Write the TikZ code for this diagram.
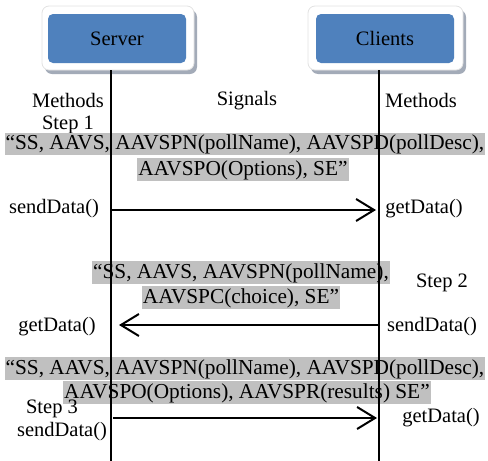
\documentclass[tikz,border=0pt]{standalone}
\usepackage{fontspec}
\setmainfont{Liberation Serif}
\newfontfamily\tnr{Liberation Serif}
\usetikzlibrary{arrows.meta,shadows}
\definecolor{boxblue}{HTML}{4F81BD}
\definecolor{hlgray}{HTML}{C0C0C0}
\definecolor{shadowc}{HTML}{A3ABB8}
\definecolor{frameedge}{HTML}{E2E2E2}
\newcommand{\dfont}{\tnr\fontsize{20.5}{24.5}\selectfont}
\newcommand{\sfontx}{\tnr\fontsize{21.3}{25}\selectfont}
\begin{document}
\begin{tikzpicture}[x=1pt,y=-1pt,
  frame/.style={draw=frameedge, line width=0.8pt, fill=white, rounded corners=7pt,
    minimum height=64pt, inner sep=0pt, drop shadow={shadow xshift=3pt, shadow yshift=-4pt, fill=shadowc, opacity=1}},
  actor/.style={font=\dfont, inner sep=0pt, fill=boxblue, rounded corners=5pt, minimum width=138pt, minimum height=49pt},
  hl/.style={font=\sfontx, fill=hlgray, inner xsep=1pt, inner ysep=0pt, text height=16.8pt, text depth=5.6pt},
  lbl/.style={font=\dfont, inner sep=0pt},
  lifeline/.style={line width=1.5pt},
  msg/.style={line width=2pt, -{Straight Barb[length=18pt, width=22pt, line width=2pt]}}
]
\useasboundingbox (0,0) rectangle (488,461);
% actor boxes
\node[frame, minimum width=152pt] (sframe) at (118,38) {};
\node[actor] (server) at (117,38.5) {Server};
\node[frame, minimum width=155pt] (cframe) at (385.5,38) {};
\node[actor] (clients) at (385,38.5) {Clients};
% labels
\node[lbl] (m1) at (68,100) {Methods};
\node[lbl] (st1) at (68,125) {Step 1};
\node[lbl] (sig) at (247,101) {Signals};
\node[lbl] (m2) at (421,100) {Methods};
% signal texts
\node[hl] (s1a) at (245,144) {“SS, AAVS, AAVSPN(pollName), AAVSPD(pollDesc),};
\node[hl] (s1b) at (243,169.5) {AAVSPO(Options), SE”};
\node[hl] (s2a) at (241,272.5) {“SS, AAVS, AAVSPN(pollName),};
\node[hl] (s2b) at (241,297.5) {AAVSPC(choice), SE”};
\node[hl] (s3a) at (245,368.5) {“SS, AAVS, AAVSPN(pollName), AAVSPD(pollDesc),};
\node[hl] (s3b) at (247,392.5) {AAVSPO(Options), AAVSPR(results) SE”};
% lifelines
\coordinate (sbot) at (111,461);
\coordinate (cbot) at (379,461);
\coordinate (stop) at (111,70);
\coordinate (ctop) at (379,70);
\draw[lifeline] (stop) -- (sbot);
\draw[lifeline] (ctop) -- (cbot);
% signal 1
\node[lbl] (sd1) at (54,209) {sendData()};
\node[lbl] (gd1) at (424,209) {getData()};
\coordinate (a1s) at (112,210);
\coordinate (a1e) at (376,210);
\draw[msg] (a1s) -- (a1e);
% signal 2
\node[lbl] (st2) at (442,283) {Step 2};
\node[lbl] (gd2) at (57,327) {getData()};
\node[lbl] (sd2) at (432,327) {sendData()};
\coordinate (a2s) at (379,325);
\coordinate (a2e) at (119,325);
\draw[msg] (a2s) -- (a2e);
% signal 3
\node[lbl] (st3) at (52,409) {Step 3};
\node[lbl] (sd3) at (62,432) {sendData()};
\node[lbl] (gd3) at (441,418) {getData()};
\coordinate (a3s) at (113,418);
\coordinate (a3e) at (377,418);
\draw[msg] (a3s) -- (a3e);
\end{tikzpicture}
\end{document}
